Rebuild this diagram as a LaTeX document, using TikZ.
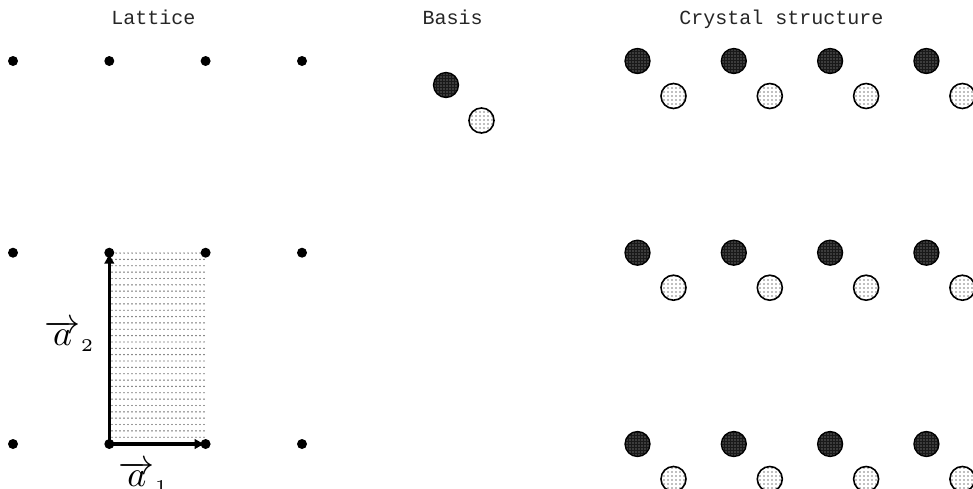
\documentclass[tikz,border=0pt]{standalone}
\usepackage{graphicx}
\usepackage{fontspec}
\newfontfamily\titlemono{Liberation Mono}
\usetikzlibrary{patterns,arrows.meta}
\newcommand{\veclab}[2]{\scalebox{3.6}{$\overrightarrow{#1}_{\scriptscriptstyle #2}$}}
\pgfdeclarepatternformonly{rectdots}{\pgfqpoint{-1pt}{-1pt}}{\pgfqpoint{1pt}{1pt}}{\pgfqpoint{4pt}{6.35pt}}{\pgfpathcircle{\pgfqpoint{0pt}{0pt}}{0.7pt}\pgfusepath{fill}}
\pgfdeclarepatternformonly{darkdots}{\pgfqpoint{-1pt}{-1pt}}{\pgfqpoint{1pt}{1pt}}{\pgfqpoint{3pt}{3pt}}{\pgfpathcircle{\pgfqpoint{0pt}{0pt}}{0.7pt}\pgfusepath{fill}}
\pgfdeclarepatternformonly{lightdots}{\pgfqpoint{-1pt}{-1pt}}{\pgfqpoint{1pt}{1pt}}{\pgfqpoint{4pt}{4pt}}{\pgfpathcircle{\pgfqpoint{0pt}{0pt}}{0.8pt}\pgfusepath{fill}}
\tikzset{
  title/.style={font=\fontsize{20}{24}\titlemono, text=black!85, anchor=base, inner sep=0pt},
  latdot/.style={circle, fill=black, minimum size=10pt, inner sep=0pt},
  darkatom/.style={circle, minimum size=25pt, inner sep=0pt, preaction={fill=black!90}, pattern=darkdots, pattern color=gray!60, draw=black, line width=1.3pt},
  lightatom/.style={circle, minimum size=25pt, inner sep=0pt, preaction={fill=white}, pattern=lightdots, pattern color=black!50, draw=black, line width=1.6pt},
  vec/.style={line width=3.2pt, -{Latex[length=11pt,width=11pt]}},
  veclabel/.style={inner sep=0pt},
  cell/.style={pattern=rectdots, pattern color=black!80}
}
\begin{document}
\begin{tikzpicture}[x=1pt,y=-1pt]
\useasboundingbox (0,0) rectangle (973,488);
\clip (0,0) rectangle (973,488);
% titles
\node[title] (tL) at (153.5,24.3) {Lattice};
\node[title] (tB) at (452.7,24.3) {Basis};
\node[title] (tC) at (781.5,24.3) {Crystal structure};
% unit cell
\coordinate (c00) at (109.3,444);
\coordinate (c11) at (205.6,252.7);
\fill[cell] (c00) rectangle (c11);
% lattice dots
\foreach \x [count=\i] in {13,109.3,205.6,302}{
  \foreach \y [count=\j] in {61,252.7,444}{
    \node[latdot] (L-\i-\j) at (\x,\y) {};
  }
}
% vectors
\draw[vec] (L-2-3.center) -- (L-3-3.center);
\draw[vec] (L-2-3.center) -- (L-2-2.center);
\node[veclabel, anchor=east] (a2lab) at (95,336) {\veclab{a}{2}};
\node[veclabel] (a1lab) at (144,477) {\veclab{a}{1}};
% basis
\node[darkatom] (BD) at (446,85) {};
\node[lightatom] (BL) at (481.5,120.5) {};
% crystal
\foreach \x [count=\i] in {637.5,733.8,830.1,926.4}{
  \foreach \y [count=\j] in {61,252.7,444}{
    \node[darkatom] (CD-\i-\j) at (\x,\y) {};
    \node[lightatom] (CL-\i-\j) at (\x+36,\y+35) {};
  }
}
\end{tikzpicture}
\end{document}
